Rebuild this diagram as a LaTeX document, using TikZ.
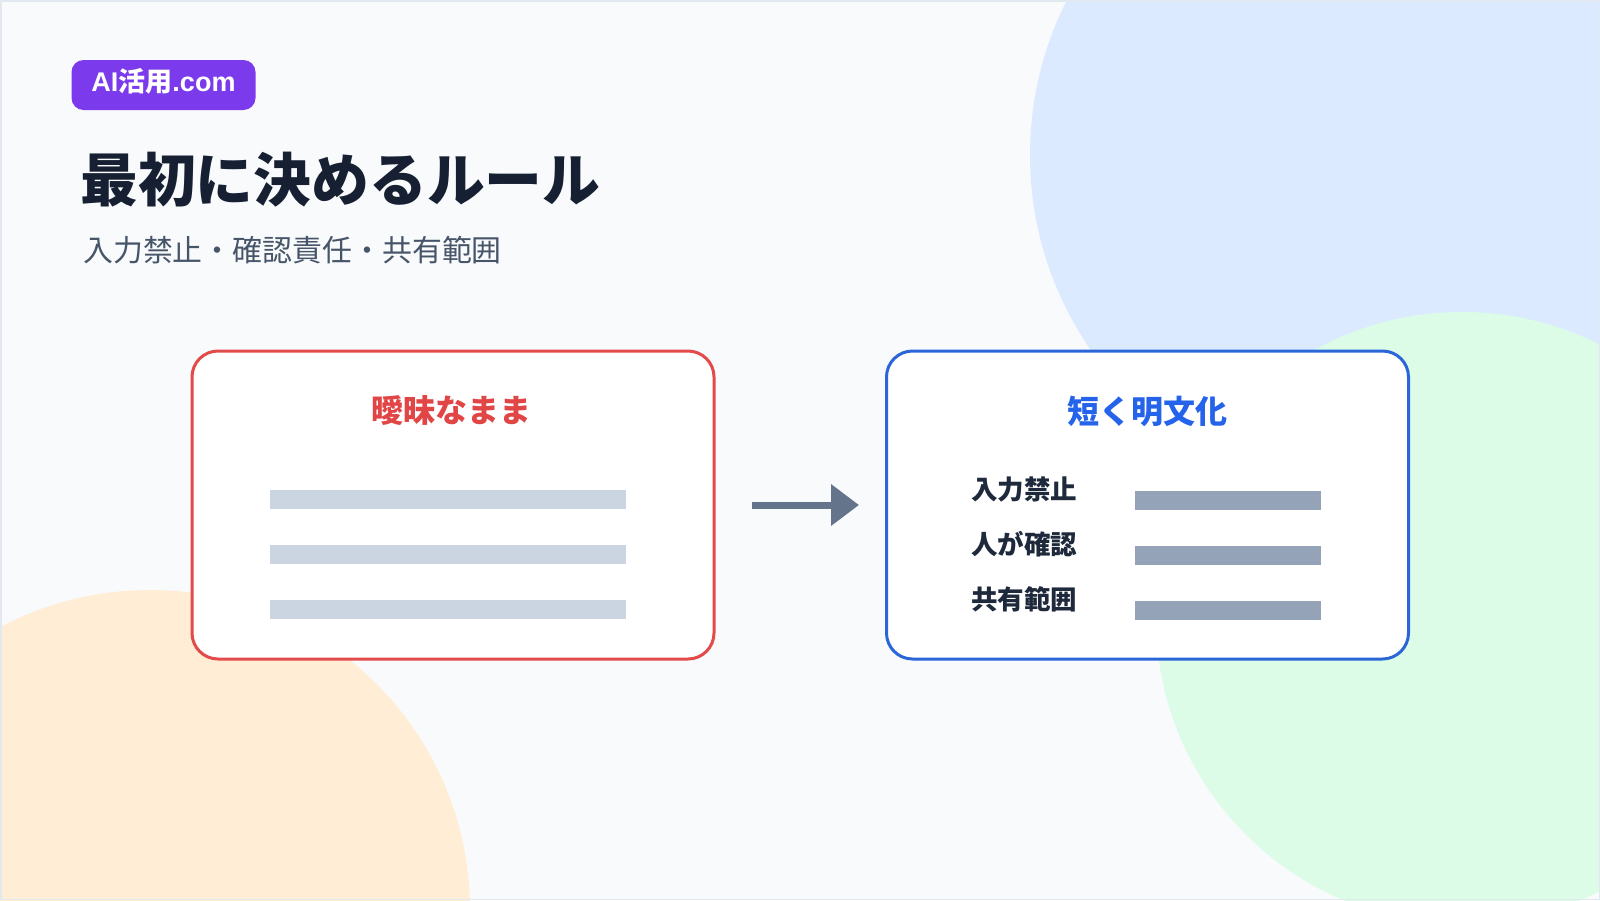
\documentclass[tikz,border=0pt]{standalone}
\usepackage{fontspec}
\setmainfont{Noto Sans CJK JP}
\newfontfamily\latinsans{Liberation Sans}
\usetikzlibrary{arrows.meta}
\definecolor{bgc}{HTML}{F8FAFC}
\definecolor{edgec}{HTML}{E2E8F0}
\definecolor{blobblue}{HTML}{DBEAFE}
\definecolor{blobgreen}{HTML}{DCFCE7}
\definecolor{bloborange}{HTML}{FFEDD5}
\definecolor{badgec}{HTML}{7C3AED}
\definecolor{titlec}{HTML}{172033}
\definecolor{subc}{HTML}{475569}
\definecolor{cardred}{HTML}{E34A4A}
\definecolor{cardblue}{HTML}{2B66D9}
\definecolor{redtext}{HTML}{E24545}
\definecolor{bluetext}{HTML}{2563EB}
\definecolor{barlight}{HTML}{CBD5E1}
\definecolor{bardark}{HTML}{94A3B8}
\definecolor{arrowc}{HTML}{64748B}
\definecolor{labelc}{HTML}{1E293B}
\begin{document}
\begin{tikzpicture}[x=1pt,y=-1pt,
  card/.style={draw=#1, line width=3pt, fill=white, rounded corners=26pt,
    minimum width=522pt, minimum height=308pt, inner sep=0pt},
  cardtitle/.style={text=#1, inner sep=0pt, font=\fontsize{32}{36}\selectfont\bfseries},
  rowlabel/.style={text=labelc, inner sep=0pt, anchor=west, font=\fontsize{26.5}{30}\selectfont\bfseries},
  badge/.style={fill=badgec, text=white, rounded corners=12pt, minimum width=184pt,
    minimum height=50pt, inner sep=0pt, text height=20pt, text depth=7pt,
    font=\fontsize{27}{30}\selectfont\bfseries},
  flow/.style={draw=arrowc, line width=7pt, -{Triangle[length=28pt,width=40pt]}}
]
\useasboundingbox (0,0) rectangle (1600,900);
\fill[bgc] (0,0) rectangle (1600,900);
\begin{scope}
  \clip (0,0) rectangle (1600,900);
  \fill[blobblue] (1373,155) circle[radius=343];
  \fill[blobgreen] (1462,618) circle[radius=306];
  \fill[bloborange] (150,910) circle[radius=320];
\end{scope}
\draw[edgec, line width=1.5pt] (0.75,0.75) rectangle (1599.25,899.25);

% header
\node[badge] (badge) at (163.5,85) {{\latinsans\bfseries AI}活用{\latinsans\bfseries .com}};
\node[anchor=west, inner sep=0pt, text=titlec, font=\fontsize{57.8}{62}\selectfont\bfseries] (title) at (80,180) {最初に決めるルール};
\node[anchor=west, inner sep=0pt, text=subc, font=\fontsize{29.9}{34}\selectfont] (subtitle) at (83,250) {入力禁止・確認責任・共有範囲};

% cards
\node[card=cardred] (L) at (453,505) {};
\node[card=cardblue] (R) at (1147.5,505) {};

\node[cardtitle=redtext] (Lt) at (451,411) {曖昧なまま};
\node[cardtitle=bluetext] (Rt) at (1147,411) {短く明文化};

% left bars
\fill[barlight] (269.5,490) rectangle (625.5,509);
\fill[barlight] (269.5,545) rectangle (625.5,564);
\fill[barlight] (269.5,600) rectangle (625.5,619);

% right rows
\node[rowlabel] (r1) at (971,489) {入力禁止};
\node[rowlabel] (r2) at (971,544) {人が確認};
\node[rowlabel] (r3) at (971,599) {共有範囲};
\fill[bardark] (1135,491) rectangle (1321,510);
\fill[bardark] (1135,546) rectangle (1321,565);
\fill[bardark] (1135,601) rectangle (1321,620);

% arrow
\draw[flow] ([xshift=36pt]L.east) -- ([xshift=-26pt]R.west);
\end{tikzpicture}
\end{document}
